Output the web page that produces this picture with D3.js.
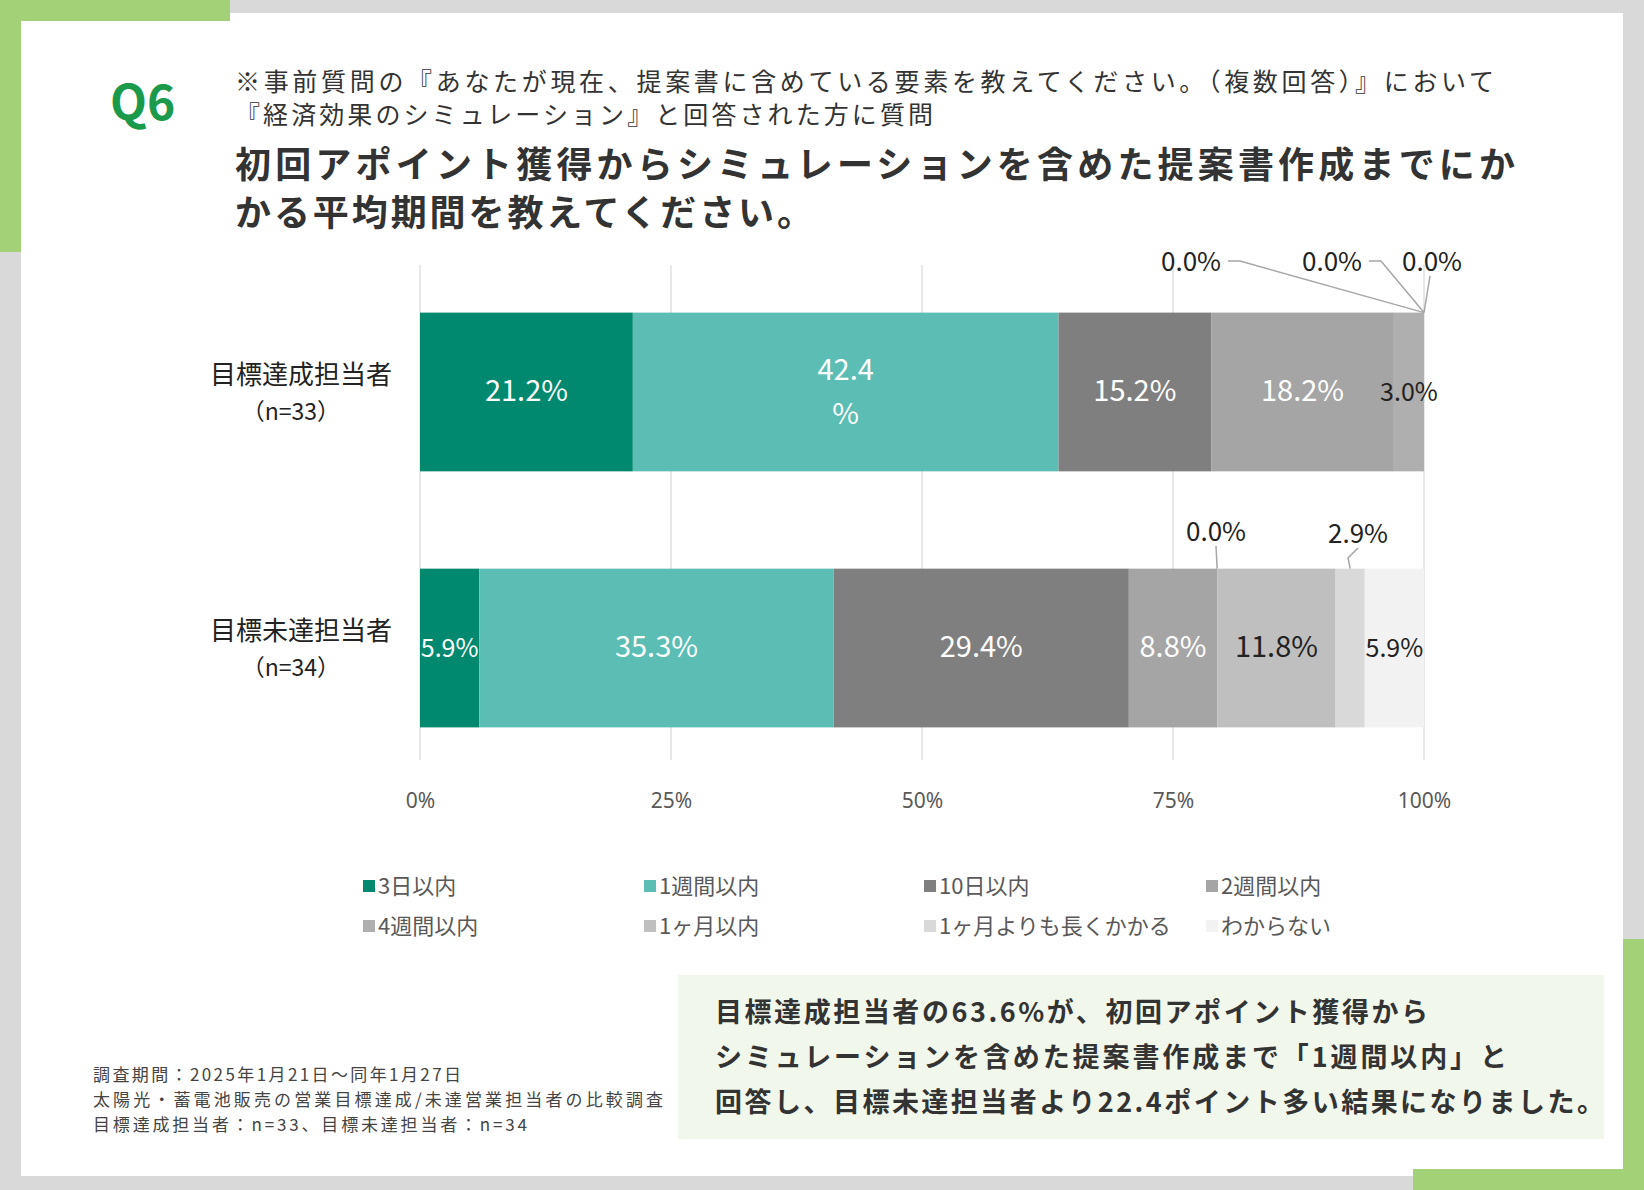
<!DOCTYPE html>
<html>
<head>
<meta charset="utf-8">
<script src="https://cdn.jsdelivr.net/npm/d3@7"></script>
<style>
  body { margin: 0; background: #d9d9d9; }
  text { font-family: "Noto Sans CJK JP", "Noto Sans", sans-serif; }
</style>
</head>
<body>
<script>
// data
var categories = ["3日以内", "1週間以内", "10日以内", "2週間以内", "4週間以内", "1ヶ月以内", "1ヶ月よりも長くかかる", "わからない"];
var colors = ["#00896f", "#5bbdb3", "#7f7f7f", "#a5a5a5", "#afafaf", "#bfbfbf", "#d9d9d9", "#f2f2f2"];
var groups = ["目標達成担当者", "目標未達担当者"];
var groupN = ["（n=33）", "（n=34）"];
var achieved = [21.2, 42.4, 15.2, 18.2, 3.0, 0.0, 0.0, 0.0];
var notAchieved = [5.9, 35.3, 29.4, 8.8, 0.0, 11.8, 2.9, 5.9];
var ticks = [0, 25, 50, 75, 100];

var W = 1644, H = 1190;
var svg = d3.select("body").append("svg").attr("width", W).attr("height", H);

// frame
svg.append("rect").attr("width", W).attr("height", H).attr("fill", "#d9d9d9");
svg.append("rect").attr("x", 21).attr("y", 13).attr("width", 1602).attr("height", 1163).attr("fill", "#fff");
var green = "#a3d177";
svg.append("rect").attr("x", 0).attr("y", 0).attr("width", 21).attr("height", 252).attr("fill", green);
svg.append("rect").attr("x", 0).attr("y", 0).attr("width", 230).attr("height", 21).attr("fill", green);
svg.append("rect").attr("x", 1623).attr("y", 939).attr("width", 21).attr("height", 251).attr("fill", green);
svg.append("rect").attr("x", 1413).attr("y", 1169).attr("width", 231).attr("height", 21).attr("fill", green);

function txt(x0, y0, size, t, len, bold, fill) {
  var e = svg.append("text").attr("x", x0).attr("y", y0).attr("font-size", size)
    .attr("fill", fill || "#333").text(t);
  if (bold) e.attr("font-weight", "bold");
  if (len) e.attr("textLength", len).attr("lengthAdjust", "spacing");
  return e;
}

// headings
txt(110, 120, 48, "Q6", null, true, "#1a9a4a");
txt(235, 91, 25, "※事前質問の『あなたが現在、提案書に含めている要素を教えてください。（複数回答）』において", 1259);
txt(235, 124, 25, "『経済効果のシミュレーション』と回答された方に質問", 698);
txt(235, 178, 36, "初回アポイント獲得からシミュレーションを含めた提案書作成までにか", 1280, true);
txt(235, 226, 36, "かる平均期間を教えてください。", 578, true);

// scales
var x = d3.scaleLinear().domain([0, 100]).range([420, 1424]);
var y = d3.scaleBand().domain(groups).range([287, 753]).paddingInner(0.38).paddingOuter(0.1);

// gridlines
svg.append("g").selectAll("line").data(ticks).join("line")
  .attr("x1", d => x(d)).attr("x2", d => x(d)).attr("y1", 265).attr("y2", 760)
  .attr("stroke", "#d9d9d9").attr("stroke-width", 1.2);

var axis = svg.append("g").attr("transform", "translate(0,790)")
  .call(d3.axisBottom(x).tickValues(ticks).tickSize(0).tickFormat(d => d + "%"));
axis.select(".domain").remove();
axis.selectAll("text").attr("font-size", 21).attr("fill", "#595959")
  .style("font-family", "'Noto Sans', sans-serif");

// bars
var rows = [achieved, notAchieved];
var darkText = { 0: [4], 1: [5, 7] };
var calloutIdx = { 0: [5, 6, 7], 1: [4, 6] };
rows.forEach(function (vals, gi) {
  var cum = 0;
  var segs = vals.map(function (v, i) { var s = { v: v, i: i, x0: cum }; cum += v; s.x1 = cum; return s; });
  var g = svg.append("g");
  g.selectAll("rect").data(segs.filter(s => s.v > 0)).join("rect")
    .attr("x", s => x(s.x0)).attr("width", s => x(s.x1) - x(s.x0))
    .attr("y", y(groups[gi])).attr("height", y.bandwidth()).attr("fill", s => colors[s.i]);
  var cy = y(groups[gi]) + y.bandwidth() / 2;
  segs.filter(s => s.v > 0 && calloutIdx[gi].indexOf(s.i) < 0).forEach(function (s) {
    var dark = darkText[gi].indexOf(s.i) >= 0;
    var cx = (x(s.x0) + x(s.x1)) / 2;
    var fs = 29;
    if (gi === 0 && s.i === 1) {
      g.append("text").attr("x", cx).attr("y", cy - 12).attr("text-anchor", "middle").attr("font-size", fs).attr("fill", "#fff").text("42.4");
      g.append("text").attr("x", cx).attr("y", cy + 32).attr("text-anchor", "middle").attr("font-size", fs).attr("fill", "#fff").text("%");
      return;
    }
    if (s.v < 7) fs = 25;
    g.append("text").attr("x", cx).attr("y", cy + 9).attr("text-anchor", "middle")
      .attr("font-size", fs).attr("fill", dark ? "#222" : "#fff").text(s.v.toFixed(1) + "%");
  });
  // callout labels for tiny/zero segments
  var top = y(groups[gi]);
  var callouts = gi === 0
    ? [{ i: 5, lx: 1191, ly: 264, ax: 1228, ay: 261 }, { i: 6, lx: 1332, ly: 264, ax: 1369, ay: 261 }, { i: 7, lx: 1432, ly: 264, ax: 1432, ay: 276 }]
    : [{ i: 4, lx: 1216, ly: 534, ax: 1216, ay: 546 }, { i: 6, lx: 1358, ly: 536, ax: 1358, ay: 548 }];
  callouts.forEach(function (c) {
    var s = segs[c.i];
    var px = x((s.x0 + s.x1) / 2);
    var pts = gi === 0 ? [[c.ax, c.ay], [c.ax + 12, c.ay], [px, top]] : [[c.ax, c.ay], [c.ax - 10, c.ay + 10], [px, top]];
    if (gi === 0 && c.i === 7) pts = [[c.ax - 2, c.ay], [px, top]];
    if (gi === 1 && c.i === 4) pts = [[c.ax, c.ay], [px, top]];
    g.append("path").attr("d", d3.line()(pts)).attr("fill", "none").attr("stroke", "#a6a6a6").attr("stroke-width", 1.5);
    g.append("text").attr("x", c.lx).attr("y", c.ly).attr("text-anchor", "middle").attr("dominant-baseline", "middle")
      .attr("font-size", 26).attr("fill", "#222").text(s.v.toFixed(1) + "%");
  });
  // category labels
  svg.append("text").attr("x", 392).attr("y", cy - 8).attr("text-anchor", "end").attr("font-size", 26).attr("fill", "#222").text(groups[gi]);
  svg.append("text").attr("x", 340).attr("y", cy + 28).attr("text-anchor", "end").attr("font-size", 23).attr("fill", "#222").text(groupN[gi]);
});

// legend
var legX = [363, 644, 924, 1206];
var leg = svg.append("g").selectAll("g").data(categories).join("g")
  .attr("transform", (d, i) => "translate(" + legX[i % 4] + "," + (i < 4 ? 894 : 934) + ")");
leg.append("rect").attr("x", 0).attr("y", -14).attr("width", 12).attr("height", 12).attr("fill", (d, i) => colors[i]);
leg.append("text").attr("x", 15).attr("y", 0).attr("font-size", 22).attr("fill", "#595959").text(d => d);

// note box
svg.append("rect").attr("x", 678).attr("y", 975).attr("width", 926).attr("height", 164).attr("fill", "#f2f7ec");
var noteLines = ["目標達成担当者の63.6%が、初回アポイント獲得から",
 "シミュレーションを含めた提案書作成まで「1週間以内」と",
 "回答し、目標未達担当者より22.4ポイント多い結果になりました。"];
var noteLen = [713, 792, 889];
noteLines.forEach(function (t, i) { txt(715, 1022 + i * 45, 27, t, noteLen[i], true); });

// footnote
var footLines = ["調査期間：2025年1月21日～同年1月27日",
 "太陽光・蓄電池販売の営業目標達成/未達営業担当者の比較調査",
 "目標達成担当者：n=33、目標未達担当者：n=34"];
var footLen = [368, 570, 434];
footLines.forEach(function (t, i) { txt(93, 1081 + i * 25, 17, t, footLen[i], false, "#444"); });
</script>
</body>
</html>
